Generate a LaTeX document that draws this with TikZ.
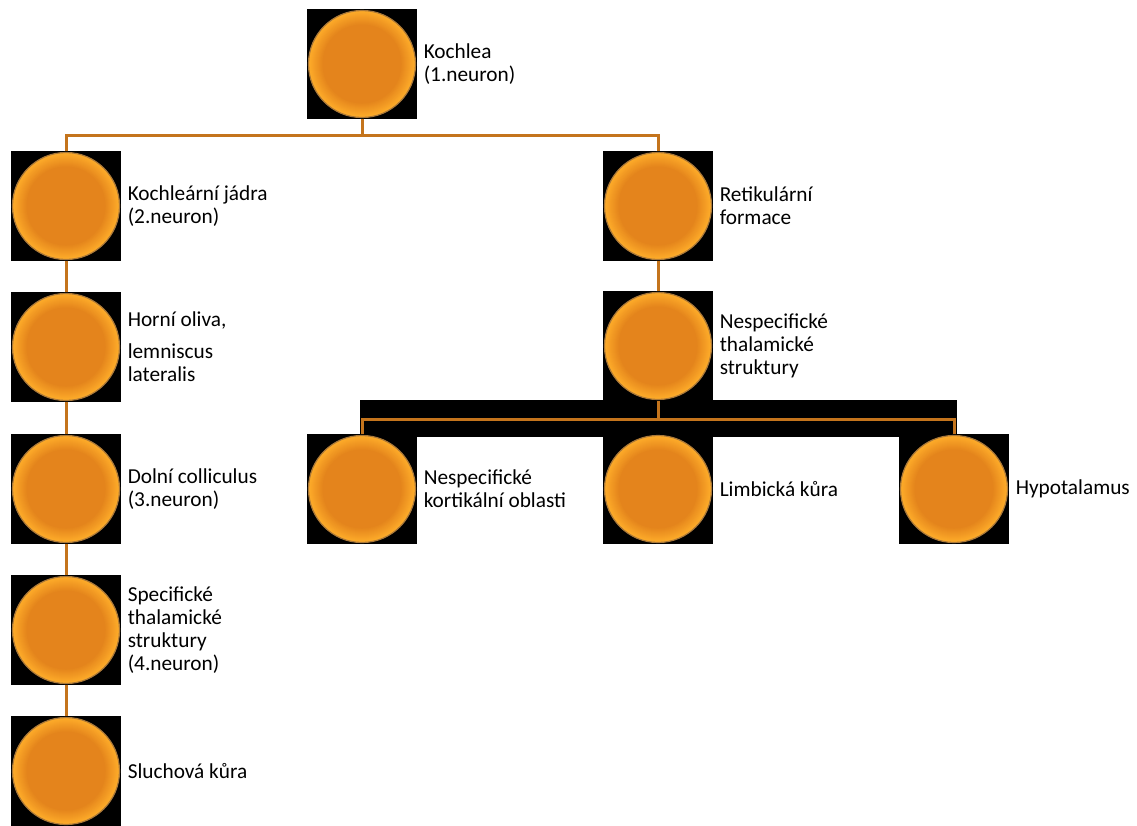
\documentclass[tikz,border=0pt]{standalone}
\usepackage{fontspec}
\setmainfont{Carlito}
\usetikzlibrary{positioning,backgrounds}

\definecolor{linkcol}{RGB}{196,116,28}
\definecolor{ballmid}{RGB}{228,132,28}
\definecolor{ballrim}{RGB}{254,172,42}
\definecolor{ballring}{RGB}{170,120,56}

\tikzset{every picture/.style={line width=0.75pt}}

\begin{document}
\begin{tikzpicture}[x=1pt,y=1pt,yscale=-1,xscale=1,
  sq/.style={fill=black,minimum size=110pt,inner sep=0pt},
  ball/.style={circle,fill=ballmid,draw=ballring,line width=1.2pt,minimum size=107pt,inner sep=0pt,
    path picture={\foreach \i [evaluate=\i as \p using int(\i*7)] in {0,...,14}
      \fill[ballmid!\p!ballrim] (path picture bounding box.center) circle ({53.5-\i});
      \fill[ballmid] (path picture bounding box.center) circle (39);}},
  lbl/.style={align=left,inner sep=0pt,font=\fontsize{21.3}{23}\selectfont},
  link/.style={draw=linkcol,line width=3pt}]
	\useasboundingbox (0,0) rectangle (1137,825);

	%Shape: top
	\node[sq] (koch) at (362,64) {};
	\node[ball] at (koch) {};
	\node[lbl,right=6pt of koch] (kochtxt) {Kochlea\\(1.neuron)};

	%Shape: left column
	\node[sq] (jadra) at (66,206) {};
	\node[ball] at (jadra) {};
	\node[lbl,right=6pt of jadra] (jadratxt) {Kochleární jádra\\(2.neuron)};

	\node[sq] (oliva) at (66,347) {};
	\node[ball] at (oliva) {};
	\node[lbl,right=6pt of oliva] (olivatxt) {Horní oliva,\\[9pt]lemniscus\\lateralis};

	\node[sq] (colli) at (66,489) {};
	\node[ball] at (colli) {};
	\node[lbl,right=6pt of colli] (collitxt) {Dolní colliculus\\(3.neuron)};

	\node[sq] (thal) at (66,630) {};
	\node[ball] at (thal) {};
	\node[lbl,right=6pt of thal] (thaltxt) {Specifické\\thalamické\\struktury\\(4.neuron)};

	\node[sq] (kura) at (66,771) {};
	\node[ball] at (kura) {};
	\node[lbl,right=6pt of kura] (kuratxt) {Sluchová kůra};

	%Shape: right column
	\node[sq] (retik) at (658,206) {};
	\node[ball] at (retik) {};
	\node[lbl,right=6pt of retik] (retiktxt) {Retikulární\\formace};

	\node[sq] (nesth) at (658,346) {};
	\node[ball] at (nesth) {};
	\node[lbl,right=6pt of nesth] (nesthtxt) {Nespecifické\\thalamické\\struktury};

	%Shape: bottom row
	\node[sq] (kort) at (362,489) {};
	\node[ball] at (kort) {};
	\node[lbl,right=6pt of kort] (korttxt) {Nespecifické\\kortikální oblasti};

	\node[sq] (limb) at (658,489) {};
	\node[ball] at (limb) {};
	\node[lbl,right=6pt of limb] (limbtxt) {Limbická kůra};

	\node[sq] (hypo) at (954,489) {};
	\node[ball] at (hypo) {};
	\node[lbl,right=6pt of hypo] (hypotxt) {Hypotalamus};

	%Straight Lines
	\begin{pgfonlayer}{background}
	\fill (360,400) rectangle (957,437);
	\coordinate (topbus) at (362,135);
	\coordinate (lowbus) at (658,419);
	\draw[link] (koch) -- (topbus) -| (jadra);
	\draw[link] (topbus) -| (retik);
	\draw[link] (jadra) -- (oliva) -- (colli) -- (thal) -- (kura);
	\draw[link] (retik) -- (nesth);
	\draw[link] (nesth) -- (lowbus) -| (kort);
	\draw[link] (lowbus) -| (hypo);
	\end{pgfonlayer}

\end{tikzpicture}
\end{document}
